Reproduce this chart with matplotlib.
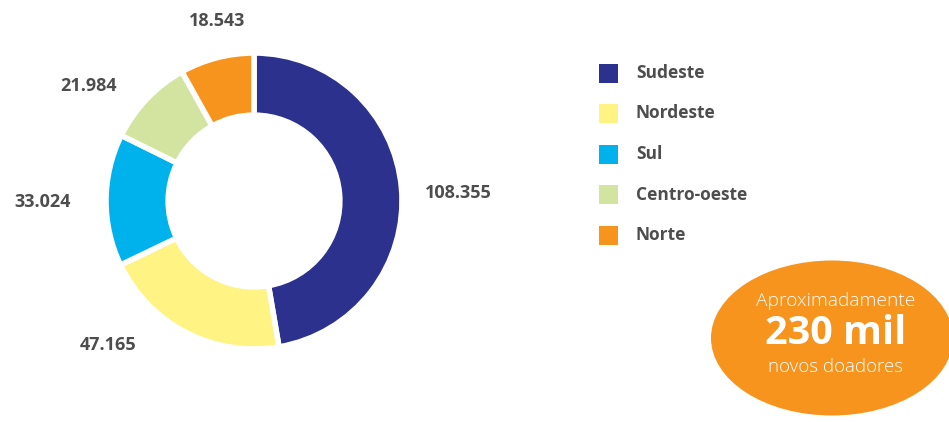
import matplotlib
matplotlib.use("Agg")
import matplotlib.pyplot as plt
from matplotlib.patches import Ellipse, Rectangle

# data
regions = ["Sudeste", "Nordeste", "Sul", "Centro-oeste", "Norte"]
donors = [108355, 47165, 33024, 21984, 18543]
labels = ["108.355", "47.165", "33.024", "21.984", "18.543"]
colors = ["#2b318c", "#fff384", "#00b2ec", "#d2e4a0", "#f7941e"]

plt.rcParams['font.family'] = ['Open Sans', 'DejaVu Sans']
txt = "#4d4d4d"

fig = plt.figure(figsize=(9.49, 4.22), dpi=100)
ax = fig.add_axes([0, 0, 1, 1])

# donut (pixel coords, y flipped)
cx, cy, r = 254, 422 - 201, 148
ax.pie(donors, colors=colors, startangle=90, counterclock=False,
       center=(cx, cy), radius=r, frame=True,
       wedgeprops=dict(width=r * 0.42, edgecolor='white', linewidth=4))
ax.set_xlim(0, 949)
ax.set_ylim(0, 422)
ax.set_aspect('equal')
ax.axis('off')

# value labels placed around the ring
label_pos = [(458, 193), (108, 345), (43, 202), (89, 86), (217, 21)]
for lab, (x, y) in zip(labels, label_pos):
    ax.text(x, 422 - y, lab, ha='center', va='center', fontsize=13,
            fontweight='bold', color=txt)

# legend
for i, (name, c) in enumerate(zip(regions, colors)):
    y = 422 - (73 + i * 40.5)
    ax.add_patch(Rectangle((599, y - 9.5), 19, 19, facecolor=c, edgecolor='none'))
    ax.text(636, y, name, ha='left', va='center', fontsize=12.5,
            fontweight='bold', color=txt)

# callout bubble
ax.add_patch(Ellipse((832, 422 - 338), 242, 155, facecolor="#f7941e",
                     edgecolor='none', clip_on=False))
ax.text(836, 422 - 301, "Aproximadamente", ha='center', va='center',
        fontsize=13.8, color='white', fontweight='light')
ax.text(836, 422 - 333, "230 mil", ha='center', va='center',
        fontsize=28.5, color='white', fontweight='bold')
ax.text(836, 422 - 367, "novos doadores", ha='center', va='center',
        fontsize=13.5, color='white', fontweight='light')

fig.savefig("out.png", dpi=100)
